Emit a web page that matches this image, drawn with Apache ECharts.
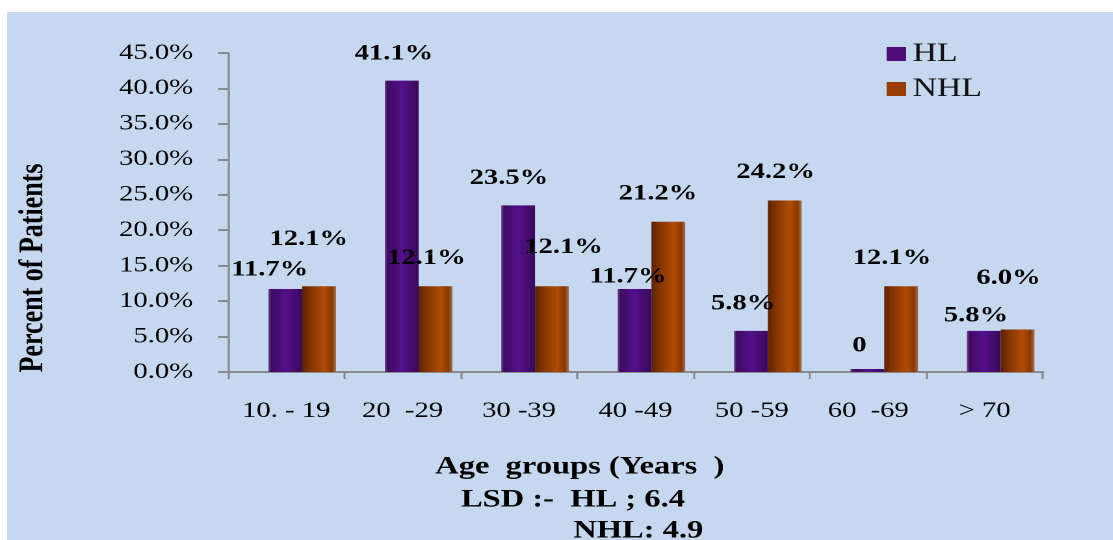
<!DOCTYPE html>
<html>
<head>
<meta charset="utf-8">
<script src="https://cdn.jsdelivr.net/npm/echarts@6/dist/echarts.min.js"></script>
<style>
  html, body { margin: 0; padding: 0; background: #ffffff; width: 1113px; height: 540px; overflow: hidden; }
  #panel { position: absolute; left: 7px; top: 12px; right: 0; bottom: 0; background: #c6d8f0; }
  /* the chart is laid out on a narrower canvas and widened to the page */
  #chart { position: absolute; left: 0; top: 0; width: 856px; height: 540px; transform: scaleX(1.3); transform-origin: 0 0; }
</style>
</head>
<body>
<div id="panel"></div>
<div id="chart"></div>
<script>
// Age groups and percentage of patients per lymphoma type
const categories = ['10. - 19', '20  -29', '30 -39', '40 -49', '50 -59', '60  -69', '> 70'];
const hlValues  = [11.7, 41.1, 23.5, 11.7, 5.8, 0, 5.8];
const nhlValues = [12.1, 12.1, 12.1, 21.2, 24.2, 12.1, 6.0];
const yTickLabels = ['0.0%', '5.0%', '10.0%', '15.0%', '20.0%', '25.0%', '30.0%', '35.0%', '40.0%', '45.0%'];
const yStep = 5;

// label nudges for each value label
const hlLabelOffset  = [[-12, -3], [-6, -11], [-7, -11], [-5, 4], [-6, -11], [-6, -7], [-6, 1]];
const nhlLabelOffset = [[-8, -31], [-7, -12], [9, -23], [-8, -12], [-7, -12], [-7, -12], [-7, -35]];

const serif = '"Liberation Serif", "Times New Roman", serif';

const fmtValue = v => (v === 0 ? '0' : v.toFixed(1) + '%');

const hlFill = new echarts.graphic.LinearGradient(0, 0, 1, 0, [
  { offset: 0, color: '#6f4a8c' },
  { offset: 0.08, color: '#3d0b63' },
  { offset: 0.5, color: '#55108a' },
  { offset: 1, color: '#3a0a5c' }
]);
const nhlFill = new echarts.graphic.LinearGradient(0, 0, 1, 0, [
  { offset: 0, color: '#5a2400' },
  { offset: 0.2, color: '#7e3200' },
  { offset: 0.65, color: '#b04c06' },
  { offset: 0.88, color: '#8a3800' },
  { offset: 1, color: '#a0714f' }
]);

const valueLabel = {
  show: true,
  position: 'top',
  formatter: p => fmtValue(p.value),
  fontFamily: serif,
  fontWeight: 'bold',
  fontSize: 22,
  color: '#000'
};

const chart = echarts.init(document.getElementById('chart'), null, { devicePixelRatio: 2 });

chart.setOption({
  animation: false,
  backgroundColor: 'transparent',
  legend: {
    orient: 'vertical',
    left: 677,
    top: 36,
    itemWidth: 15,
    itemHeight: 14,
    itemGap: 9,
    icon: 'rect',
    textStyle: { fontFamily: serif, fontSize: 26, color: '#111' },
    data: [
      { name: 'HL', itemStyle: { color: '#4d0e78' } },
      { name: 'NHL', itemStyle: { color: '#9a3d00' } }
    ]
  },
  grid: [
    { left: 175.4, right: 53.8, top: 53, bottom: 168 },
    { left: 187.7, right: 41.5, top: 53, bottom: 168 }
  ],
  xAxis: [
    {
      type: 'category',
      gridIndex: 0,
      data: categories,
      axisLine: { lineStyle: { color: '#8a8a8a', width: 2 } },
      axisTick: { show: true, length: 7, lineStyle: { color: '#8a8a8a', width: 1.6 } },
      axisLabel: { fontFamily: serif, fontSize: 22, color: '#000', margin: 28 }
    },
    { type: 'category', gridIndex: 1, data: categories, show: false }
  ],
  yAxis: [
    {
      type: 'value',
      gridIndex: 0,
      min: 0,
      max: 45,
      interval: yStep,
      splitLine: { show: false },
      axisLine: { show: true, lineStyle: { color: '#8a8a8a', width: 1.6 } },
      axisTick: { show: true, length: 7.7, lineStyle: { color: '#8a8a8a', width: 2 } },
      axisLabel: {
        fontFamily: serif, fontSize: 22, color: '#000', margin: 27,
        formatter: v => yTickLabels[Math.round(v / yStep)]
      }
    },
    { type: 'value', gridIndex: 1, min: 0, max: 45, interval: yStep, show: false }
  ],
  series: [
    {
      name: 'HL',
      type: 'bar',
      xAxisIndex: 1,
      yAxisIndex: 1,
      barWidth: 26,
      barGap: '0%',
      barMinHeight: 3,
      itemStyle: { color: hlFill },
      label: valueLabel,
      data: hlValues.map((v, i) => ({ value: v, label: { offset: hlLabelOffset[i] } }))
    },
    {
      name: 'NHL',
      type: 'bar',
      xAxisIndex: 1,
      yAxisIndex: 1,
      barWidth: 26,
      barGap: '0%',
      itemStyle: { color: nhlFill },
      label: valueLabel,
      data: nhlValues.map((v, i) => ({ value: v, label: { offset: nhlLabelOffset[i] } }))
    }
  ],
  graphic: [
    {
      type: 'text',
      x: 26, y: 268,
      rotation: Math.PI / 2,
      style: {
        text: 'Percent of Patients',
        font: 'bold 26px ' + serif,
        fill: '#000',
        align: 'center',
        verticalAlign: 'middle'
      }
    },
    {
      type: 'text',
      x: 446, y: 467,
      style: {
        text: 'Age  groups (Years  )',
        font: 'bold 25px ' + serif,
        fill: '#000',
        align: 'center',
        verticalAlign: 'middle'
      }
    },
    {
      type: 'text',
      x: 354.6, y: 500,
      style: {
        text: 'LSD :-  HL ; 6.4',
        font: 'bold 25px ' + serif,
        fill: '#000',
        align: 'left',
        verticalAlign: 'middle'
      }
    },
    {
      type: 'text',
      x: 441, y: 531,
      style: {
        text: 'NHL: 4.9',
        font: 'bold 25px ' + serif,
        fill: '#000',
        align: 'left',
        verticalAlign: 'middle'
      }
    }
  ]
});
</script>
</body>
</html>
